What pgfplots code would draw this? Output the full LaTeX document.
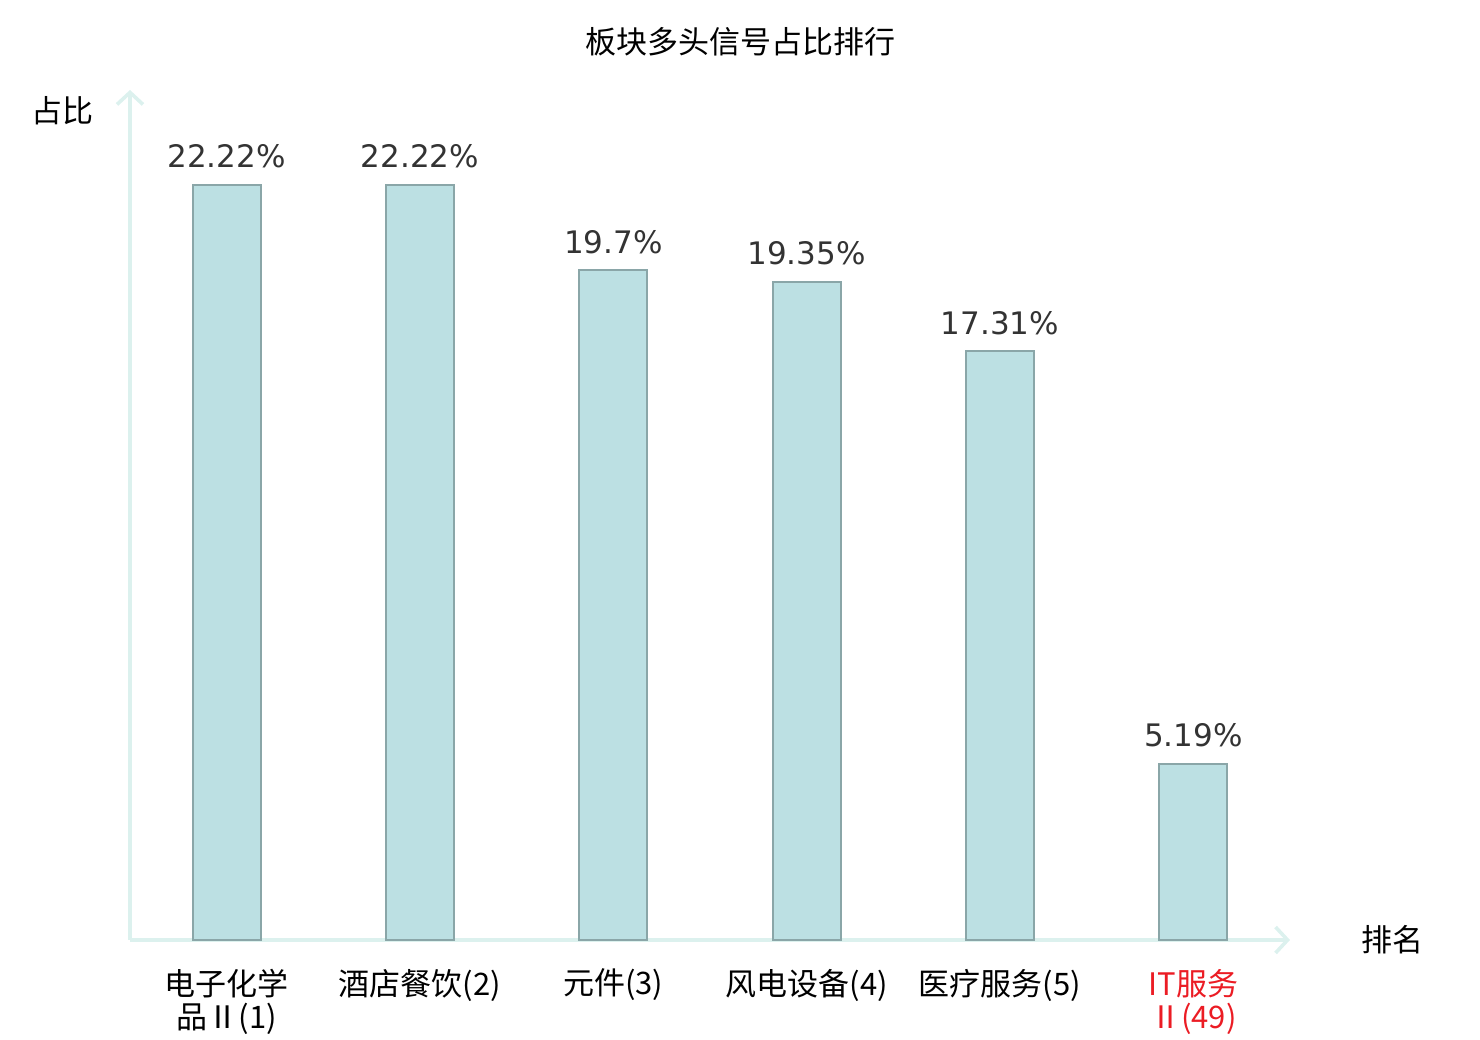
\documentclass[border=0pt]{standalone}
\usepackage{fontspec}
\setmainfont{DejaVu Sans}
\newfontfamily\cjk{Noto Sans CJK SC}
\usepackage{pgfplots}
\pgfplotsset{compat=1.18}
\usetikzlibrary{arrows.meta}
\definecolor{barfill}{RGB}{188,224,227}
\definecolor{baredge}{RGB}{138,166,168}
\definecolor{axcol}{RGB}{220,241,238}
\definecolor{valcol}{RGB}{51,51,51}
\definecolor{lblred}{RGB}{235,28,36}
\begin{document}
\begin{tikzpicture}
\useasboundingbox (0,0) rectangle (740pt,520pt);
\node[font=\cjk\fontsize{15.5}{18}\selectfont] at (370pt,499pt) {板块多头信号占比排行};
\begin{axis}[
  at={(65pt,50pt)}, anchor=south west,
  width=580pt, height=425pt, scale only axis,
  xmin=-0.5, xmax=5.5, ymin=0, ymax=25,
  axis x line=bottom, axis y line=left,
  axis line style={draw=axcol, line width=2pt, -{Straight Barb[length=6pt,width=13pt,line width=1.8pt]}},
  xtick={0,1,2,3,4,5}, ytick=\empty,
  major tick length=0pt,
  xticklabels={{电子化学\\品Ⅱ(1)},{酒店餐饮(2)},{元件(3)},{风电设备(4)},{医疗服务(5)},{\color{lblred}IT服务\\\color{lblred}Ⅱ(49)}},
  xticklabel style={font=\cjk\fontsize{15.5}{16.5}\selectfont, align=center, anchor=north, yshift=-11pt},
  xlabel={排名},
  xlabel style={font=\cjk\fontsize{15.5}{18}\selectfont, at={(axis description cs:1.088,0)}, anchor=center},
  ylabel={占比},
  ylabel style={font=\cjk\fontsize{15.5}{18}\selectfont, rotate=-90, at={(axis description cs:-0.058,0.976)}, anchor=center},
  clip=false,
]
\addplot[ybar, bar width=34pt, fill=barfill, draw=baredge, line width=1pt,
  nodes near coords, point meta=explicit symbolic,
  nodes near coords style={font=\fontsize{15.5}{18}\selectfont, text=valcol, anchor=south, yshift=4.5pt}]
coordinates {
(0,22.22) [22.22\%]
(1,22.22) [22.22\%]
(2,19.70) [19.7\%]
(3,19.35) [19.35\%]
(4,17.31) [17.31\%]
(5,5.19) [5.19\%]
};
\end{axis}
\end{tikzpicture}
\end{document}
